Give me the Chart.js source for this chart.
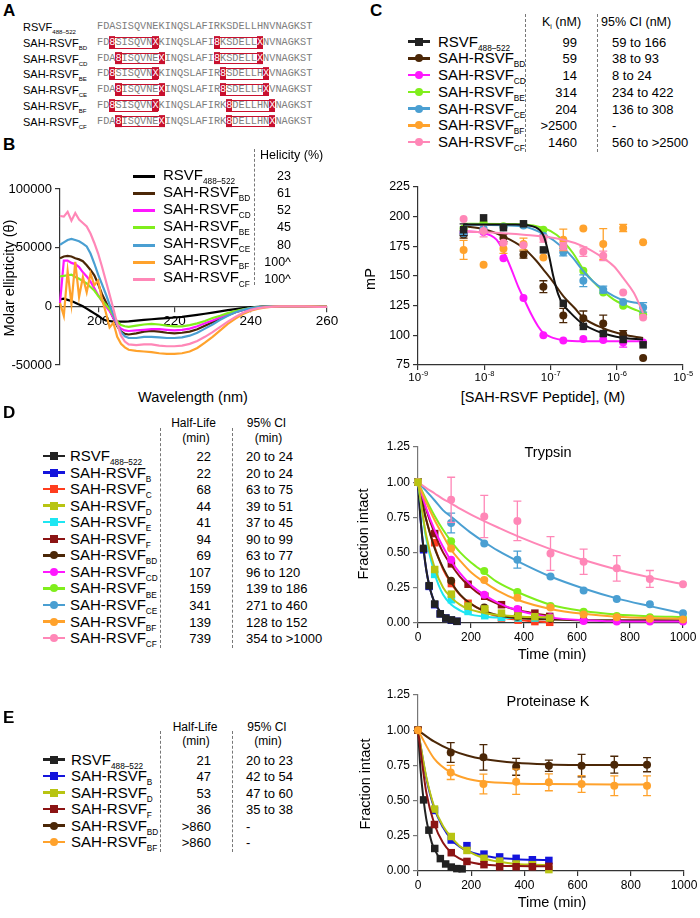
<!DOCTYPE html>
<html>
<head>
<meta charset="utf-8">
<script src="https://cdn.jsdelivr.net/npm/chart.js@4.4.1/dist/chart.umd.min.js"></script>
<style>
html,body{margin:0;padding:0;background:#fff;}
#fig{position:relative;width:700px;height:918px;overflow:hidden;background:#fff;font-family:"Liberation Sans",Arial,Helvetica,sans-serif;color:#000;}
#fig canvas{position:absolute;}
.t{position:absolute;white-space:nowrap;line-height:1;z-index:2;}
.sb{font-size:0.55em;position:relative;top:0.5em;}
.seq{font-family:"Liberation Mono","Courier New",monospace;color:#7d7d7d;line-height:1.15;}
.stp{background:#c8102e;color:#fff;}
.obox{position:absolute;border:1.3px solid #c8102e;box-sizing:border-box;z-index:1;}
.dash{position:absolute;width:0;border-left:1px dashed #777;z-index:1;}
.lg{position:absolute;z-index:2;}
</style>
</head>
<body>
<div id="fig"></div>
<script>
// ================= DATA =================
// ---- Panel A: sequences ----
const seqBase = 'FDASISQVNEKINQSLAFIRKSDELLHNVNAGKST';
const seqNames = ['RSVF','SAH-RSVF','SAH-RSVF','SAH-RSVF','SAH-RSVF','SAH-RSVF','SAH-RSVF'];
const seqSubs = ['488–522','BD','CD','BE','CE','BF','CF'];
const seqStaples = [[],[[2,9],[19,26]],[[3,10],[19,26]],[[2,9],[20,27]],[[3,10],[20,27]],[[2,9],[21,28]],[[3,10],[21,28]]];

// ---- Panel B: CD spectra ----
const cdNames = ['RSVF','SAH-RSVF','SAH-RSVF','SAH-RSVF','SAH-RSVF','SAH-RSVF','SAH-RSVF'];
const cdSubs = ['488–522','BD','CD','BE','CE','BF','CF'];
const helicity = ['23','61','52','45','80','100^','100^'];
const wlTicks = [200,220,240,260];
const cdTicks = [-50000,0,50000,100000];
const wavelength = [190,191,192,193,194,195,196,197,198,199,200,201,202,203,204,205,206,207,208,210,212,214,216,218,220,222,224,226,228,230,232,234,236,238,240,242,244,246,248,250,252,254,256,258,260];
const cdRSVF = [6000,6500,5500,4500,3000,1500,0,-2000,-4000,-6000,-8000,-10500,-12000,-12500,-13000,-13000,-13000,-13000,-12800,-12200,-11600,-11000,-10500,-10000,-9500,-9000,-8200,-7300,-6300,-5300,-4300,-3300,-2400,-1600,-900,-400,-100,0,0,0,0,0,-100,-200,-300];
const cdBD = [41000,42500,43000,42500,41000,40000,38500,35000,31000,26500,19000,10500,4000,-3000,-10000,-17000,-21500,-23500,-24000,-23000,-21500,-21000,-21500,-22500,-23000,-22500,-21500,-19500,-16500,-13500,-10500,-7500,-5000,-3000,-1600,-700,-300,-100,0,0,0,0,-100,-200,-300];
const cdCD = [3000,39000,39000,37000,36000,33500,29000,25500,21000,15500,9500,4500,0,-4000,-10000,-15500,-19000,-20500,-21000,-20500,-20000,-19500,-19500,-20000,-20500,-20000,-19000,-17000,-14500,-12000,-9500,-7000,-4700,-3000,-1700,-800,-300,-100,0,0,0,0,-100,-200,-300];
const cdBE = [25500,26000,26500,27000,25000,23500,21500,19500,16500,13500,9000,5000,1500,-2500,-8000,-13000,-16000,-17000,-17500,-16500,-15500,-15000,-15500,-16500,-17000,-17000,-16000,-14500,-12500,-10000,-8000,-5800,-4000,-2500,-1400,-600,-200,0,0,0,0,0,-100,-200,-300];
const cdCE = [52500,54500,56500,57500,56500,55500,53500,51000,45000,36500,27000,19000,10500,1500,-7000,-16000,-22000,-25500,-27000,-27000,-26000,-26000,-26500,-27000,-27000,-26500,-25000,-22500,-19000,-15500,-11500,-8000,-5000,-3000,-1500,-700,-300,-100,0,0,0,0,-100,-200,-300];
const cdBF = [3000,-8000,30000,2000,38000,8000,25000,12000,28000,18000,22000,6000,-5000,-18000,-14000,-26000,-32000,-35000,-37000,-38000,-38500,-39000,-40000,-40500,-40500,-40000,-38500,-35500,-31000,-26000,-20500,-15000,-10500,-6500,-3800,-2000,-900,-300,0,0,0,0,-100,-200,-300];
const cdCF = [77000,76500,80500,73000,79500,74000,71000,68000,62000,54000,45000,34000,22000,10000,-2000,-15000,-25000,-30000,-32500,-33000,-32500,-32500,-33500,-34000,-34000,-33500,-32000,-29500,-26000,-22000,-17500,-13000,-9000,-5500,-3000,-1500,-600,-200,0,0,0,0,-200,-400,-500];

// ---- Panel C: FP binding ----
const kiNames = cdNames;
const kiSubs = cdSubs;
const kiValues = ['99','59','14','314','204','>2500','1460'];
const kiCI = ['59 to 166','38 to 93','8 to 24','234 to 422','136 to 308','-','560 to >2500'];
const cTicks = [1e-9,1e-8,1e-7,1e-6,1e-5];
const cTickExp = ['-9','-8','-7','-6','-5'];
const mpTicks = [75,100,125,150,175,200,225];
const conc = [4.88e-9,9.77e-9,1.95e-8,3.91e-8,7.81e-8,1.56e-7,3.13e-7,6.25e-7,1.25e-6,2.5e-6];
const mpRSVF = [189,199,190.7,194,172,127,107.5,101.5,96.5,92];
const mpBD = [185,188,182,168,141,116.7,114.5,110,101,81];
const mpCD = [186.5,187,165,131.5,100,95.6,97,96,94,94];
const mpBE = [190,195,192,193,189,175,154.5,136,125,117.5];
const mpCE = [186,190,191,192.5,184,170,146,138.5,128,123.5];
const mpBF = [172,159.5,173,177,165.5,180.5,190,177,190.5,178.5];
const mpCF = [198,188,178,176,181.5,175,170.5,167,136,115];
const mpErrRSVF = [5,0,0,0,0,0,0,0,0,0];
const mpErrBD = [3,0,3,3,5,6,6,7,3,0];
const mpErrCD = [0,0,0,0,0,0,0,0,4,0];
const mpErrCE = [0,0,0,0,0,3,5,3,0,4];
const mpErrBF = [8,0,4,5,0,9,0,13,3,0];
const mpErrCF = [0,5,0,0,3,3,4,4,0,0];
const fitConcRSVF = [4.88e-9,3e-8,6e-8,8e-8,9.5e-8,1.1e-7,1.3e-7,1.55e-7,2e-7,3e-7,6e-7,1.2e-6,2.5e-6];
const fitMpRSVF = [193.5,193.5,191,183,167,150,135,126,119,110,102,98,96.5];
const fitConcBD = [4.88e-9,9.77e-9,1.95e-8,3.91e-8,6.2e-8,7.81e-8,1.08e-7,1.56e-7,2.31e-7,3.13e-7,6.25e-7,1.25e-6,2.5e-6];
const fitMpBD = [192,189.6,183.4,173.6,162.4,155.4,145.5,133,123,114.7,106,100.7,97.8];
const fitConcCD = [4.88e-9,9.77e-9,1.53e-8,1.95e-8,2.58e-8,3.24e-8,3.91e-8,5.15e-8,6.48e-8,7.81e-8,1.09e-7,1.56e-7,3.13e-7,2.5e-6];
const fitMpCD = [187.7,186.3,180.6,170.8,155.4,141.3,131.5,117.5,107.7,102,97.9,95.9,95,95];
const fitConcBE = [4.88e-9,3.91e-8,7.81e-8,1.23e-7,1.56e-7,2.18e-7,3.13e-7,4.37e-7,6.25e-7,9.04e-7,1.25e-6,1.97e-6,2.5e-6];
const fitMpBE = [194,193.5,190.4,184.8,179.2,169.4,155.4,145.5,137.1,130.1,126,121.2,118.9];
const fitConcCE = [4.88e-9,3.91e-8,7.81e-8,1.56e-7,2.18e-7,3.13e-7,4.37e-7,6.25e-7,9.04e-7,1.25e-6,1.97e-6,2.5e-6];
const fitMpCE = [193.3,191.8,185.4,173.6,165.2,154,145.5,138.6,133,129.6,127.4,126];
const fitConcCF = [4.88e-9,3.91e-8,1.56e-7,3.13e-7,6.25e-7,9.04e-7,1.25e-6,1.81e-6,2.5e-6];
const fitMpCF = [187.7,184.8,180.6,175,165.2,158.2,148.4,135.8,118.9];

// ---- Panel D: trypsin ----
const dNames = ['RSVF','SAH-RSVF','SAH-RSVF','SAH-RSVF','SAH-RSVF','SAH-RSVF','SAH-RSVF','SAH-RSVF','SAH-RSVF','SAH-RSVF','SAH-RSVF','SAH-RSVF'];
const dSubs = ['488–522','B','C','D','E','F','BD','CD','BE','CE','BF','CF'];
const dHalfLife = ['22','22','68','44','41','94','69','107','159','341','139','739'];
const dCI = ['20 to 24','20 to 24','63 to 75','39 to 51','37 to 45','90 to 99','63 to 77','96 to 120','139 to 186','271 to 460','128 to 152','354 to >1000'];
const timeTicks = [0,200,400,600,800,1000];
const fracTicks = [0,0.25,0.5,0.75,1,1.25];
const tTrypFast = [0,21,42,63,84,105,126,147];
const trypRSVF = [1.0,0.53,0.265,0.135,0.065,0.035,0.022,0.012];
const trypB = [1.0,0.52,0.26,0.13,0.065,0.035,0.02,0.012];
const tTrypSq = [0,63,126,189,252,315,378,441,497];
const trypC = [1.0,0.57,0.28,0.14,0.07,0.035,0.02,0.01,0.005];
const trypD = [1.0,0.38,0.205,0.12,0.1,0.07,0.05,0.045,0.035];
const trypE = [1.0,0.345,0.165,0.082,0.052,0.04,0.035,0.035,0.035];
const trypF = [1.0,0.635,0.42,0.275,0.19,0.13,0.09,0.07,0.047];
const tTrypCirc = [0,125,250,375,500,625,750,875,1000];
const trypBD = [1.0,0.3,0.11,0.045,0.03,0.02,0.02,0.02,0.02];
const trypCD = [1.0,0.45,0.2,0.1,0.04,0.015,0.01,0.01,0.01];
const trypBE = [1.0,0.58,0.37,0.22,0.12,0.08,0.05,0.04,0.035];
const trypCE = [1.0,0.71,0.565,0.45,0.33,0.23,0.17,0.134,0.07];
const trypBF = [1.0,0.53,0.305,0.18,0.11,0.06,0.04,0.03,0.025];
const trypCF = [1.0,0.875,0.757,0.725,0.494,0.435,0.388,0.313,0.275];
const trypErrCE = [0,0.07,0,0.06,0,0,0,0,0];
const trypErrCF = [0,0.16,0.15,0.14,0.12,0.09,0.09,0.06,0];
const fitTTrypFast = [0,10,21,31,42,52,63,84,105,126,147];
const fitTrypRSVF = [1,0.73,0.53,0.38,0.27,0.2,0.145,0.08,0.045,0.025,0.015];
const fitTrypB = [1,0.73,0.52,0.38,0.27,0.2,0.145,0.08,0.045,0.025,0.015];
const fitTTrypSq = [0,30,63,95,126,158,189,252,315,378,441,497];
const fitTrypC = [1,0.74,0.54,0.38,0.28,0.2,0.15,0.08,0.04,0.022,0.012,0.006];
const fitTrypD = [1,0.63,0.39,0.25,0.18,0.13,0.1,0.07,0.055,0.047,0.042,0.04];
const fitTrypE = [1,0.61,0.35,0.2,0.13,0.09,0.065,0.045,0.038,0.035,0.033,0.032];
const fitTrypF = [1,0.81,0.635,0.5,0.41,0.33,0.27,0.18,0.125,0.09,0.068,0.052];
const fitTTrypCirc = [0,30,63,95,125,160,200,250,300,375,500,625,750,875,1000];
const fitTrypBD = [1,0.74,0.53,0.39,0.29,0.2,0.135,0.085,0.055,0.035,0.025,0.02,0.02,0.02,0.02];
const fitTrypCD = [1,0.82,0.66,0.54,0.44,0.35,0.27,0.2,0.145,0.09,0.04,0.02,0.012,0.01,0.01];
const fitTrypBE = [1,0.88,0.76,0.66,0.58,0.5,0.43,0.36,0.29,0.22,0.13,0.085,0.06,0.048,0.042];
const fitTrypCE = [1,0.94,0.87,0.8,0.755,0.7,0.64,0.575,0.515,0.44,0.33,0.245,0.175,0.12,0.068];
const fitTrypBF = [1,0.86,0.73,0.62,0.52,0.44,0.36,0.29,0.23,0.165,0.1,0.065,0.045,0.035,0.03];
const fitTrypCF = [1,0.96,0.92,0.88,0.85,0.81,0.77,0.724,0.68,0.617,0.525,0.447,0.38,0.324,0.275];

// ---- Panel E: proteinase K ----
const eNames = ['RSVF','SAH-RSVF','SAH-RSVF','SAH-RSVF','SAH-RSVF','SAH-RSVF'];
const eSubs = ['488–522','B','D','F','BD','BF'];
const eHalfLife = ['21','47','53','36','>860','>860'];
const eCI = ['20 to 23','42 to 54','47 to 60','35 to 38','-','-'];
const tPkFast = [0,21,41,63,84,104,125,146,166];
const pkRSVF = [1.0,0.505,0.29,0.16,0.088,0.05,0.028,0.017,0.015];
const tPkSq = [0,62,125,184,248,307,369,430,492];
const pkB = [1.0,0.43,0.22,0.18,0.12,0.1,0.09,0.08,0.075];
const pkD = [1.0,0.44,0.245,0.146,0.09,0.07,0.05,0.045,0.01];
const pkF = [1.0,0.33,0.13,0.068,0.045,0.03,0.03,0.03,0.033];
const tPkCirc = [0,123,246,369,492,615,738,861];
const pkBD = [1.0,0.842,0.807,0.74,0.748,0.748,0.755,0.755];
const pkBF = [1.0,0.70,0.618,0.634,0.63,0.618,0.606,0.606];
const pkErrBD = [0,0.07,0.09,0.06,0.04,0.08,0.06,0.05];
const pkErrBF = [0,0.05,0.07,0.09,0.06,0.06,0.07,0.07];
const fitTPkFast = [0,10,21,31,41,52,63,84,104,125,146,166];
const fitPkRSVF = [1,0.71,0.505,0.37,0.28,0.2,0.15,0.085,0.05,0.03,0.02,0.015];
const fitTPkSq = [0,31,62,94,125,155,184,248,307,369,430,492];
const fitPkB = [1,0.66,0.44,0.31,0.225,0.175,0.145,0.108,0.092,0.084,0.08,0.078];
const fitPkD = [1,0.67,0.45,0.32,0.24,0.18,0.145,0.09,0.065,0.05,0.045,0.042];
const fitPkF = [1,0.56,0.33,0.2,0.13,0.09,0.068,0.046,0.038,0.035,0.034,0.034];
const fitTPkCirc = [0,60,123,185,246,369,492,615,738,861];
const fitPkBD = [1,0.92,0.86,0.82,0.795,0.768,0.757,0.753,0.752,0.752];
const fitPkBF = [1,0.8,0.7,0.655,0.635,0.622,0.618,0.616,0.615,0.615];

// ================= STYLE =================
const COL = {
  black:'#222222', blue:'#1414dc', red:'#ff3d1e', olive:'#b8c412', cyan:'#1ee6f2', dred:'#8c1414',
  brown:'#4b2707', magenta:'#ff17ff', green:'#80ee1c', steel:'#4a9fd2', orange:'#ffa22c', pink:'#ff87b7'
};
const cdColors = ['#000000',COL.brown,COL.magenta,COL.green,COL.steel,COL.orange,COL.pink];
const FONT = '"Liberation Sans", Arial, Helvetica, sans-serif';

// ================= HELPERS =================
const fig = document.getElementById('fig');
function T(x, y, html, size, o) {
  o = o || {};
  const d = document.createElement('div');
  d.className = 't' + (o.cls ? ' ' + o.cls : '');
  d.innerHTML = html;
  d.style.fontSize = size + 'px';
  d.style.left = x + 'px';
  d.style.top = y + 'px';
  if (o.bold) d.style.fontWeight = 'bold';
  const ax = o.align === 'right' ? '-100%' : (o.align === 'center' ? '-50%' : '0');
  d.style.transform = o.rot ? 'translate(-50%,-50%) rotate(-90deg)' : 'translate(' + ax + ',-50%)';
  fig.appendChild(d);
  return d;
}
function esc(s) { return s.replace(/&/g,'&amp;').replace(/</g,'&lt;').replace(/>/g,'&gt;'); }
function sub(name, s) { return esc(name) + '<span class="sb">' + esc(s) + '</span>'; }
function dash(x, y1, y2) {
  const d = document.createElement('div'); d.className = 'dash';
  d.style.left = x + 'px'; d.style.top = y1 + 'px'; d.style.height = (y2 - y1) + 'px';
  fig.appendChild(d);
}
function legendMark(x1, x2, y, color, shape, lw) {
  const l = document.createElement('div'); l.className = 'lg';
  l.style.left = x1 + 'px'; l.style.top = (y - lw / 2) + 'px';
  l.style.width = (x2 - x1) + 'px'; l.style.height = lw + 'px'; l.style.background = color;
  fig.appendChild(l);
  if (shape) {
    const m = document.createElement('div'); m.className = 'lg';
    const s = 8, cx = (x1 + x2) / 2;
    m.style.left = (cx - s / 2) + 'px'; m.style.top = (y - s / 2) + 'px';
    m.style.width = s + 'px'; m.style.height = s + 'px'; m.style.background = color;
    if (shape === 'circle') m.style.borderRadius = '50%';
    fig.appendChild(m);
  }
}
function pts(xs, ys) { return xs.map((x, i) => ({ x: x, y: ys[i] })); }
function canvasAt(l, t, w, h) {
  const c = document.createElement('canvas');
  c.width = w; c.height = h;
  c.style.left = l + 'px'; c.style.top = t + 'px';
  c.style.width = w + 'px'; c.style.height = h + 'px';
  fig.appendChild(c);
  return c;
}
function axisCfg(o) {
  const c = {
    type: o.type || 'linear', min: o.min, max: o.max, position: o.position,
    afterBuildTicks: s => { s.ticks = o.ticks.map(v => ({ value: v })); },
    ticks: { autoSkip: false, maxRotation: 0, minRotation: 0, padding: o.pad != null ? o.pad : 3,
             font: { size: o.fs, family: FONT }, color: '#000', callback: o.fmt || (v => String(v)) },
    grid: { display: true, drawOnChartArea: false, drawTicks: true, tickLength: 5, color: o.color, lineWidth: 1.2 },
    border: { display: true, color: o.color, width: 1.2 }
  };
  if (o.w || o.h) c.afterFit = s => { if (o.w) s.width = o.w; if (o.h) s.height = o.h; };
  return c;
}
function scat(xs, ys, color, shape, order, err) {
  return { data: pts(xs, ys), showLine: false, pointStyle: shape,
    pointRadius: shape === 'rect' ? 5.3 : 4, backgroundColor: color, borderColor: color, borderWidth: 0,
    order: order, clip: false, err: err };
}
function fitLine(xs, ys, color, order) {
  return { data: pts(xs, ys), showLine: true, pointRadius: 0, borderColor: color, borderWidth: 2,
    cubicInterpolationMode: 'monotone', fill: false, order: order, clip: false };
}
const errPlugin = {
  id: 'errbars',
  beforeDatasetDraw(chart, args) {
    const ds = chart.data.datasets[args.index];
    if (!ds.err) return;
    const sx = chart.scales.x, sy = chart.scales.y, ctx = chart.ctx;
    ctx.save(); ctx.strokeStyle = ds.borderColor; ctx.lineWidth = 1.3;
    ds.data.forEach((p, i) => {
      const e = ds.err[i]; if (!e) return;
      const px = sx.getPixelForValue(p.x);
      const y1 = sy.getPixelForValue(p.y - e), y2 = sy.getPixelForValue(p.y + e);
      ctx.beginPath();
      ctx.moveTo(px, y1); ctx.lineTo(px, y2);
      ctx.moveTo(px - 4, y1); ctx.lineTo(px + 4, y1);
      ctx.moveTo(px - 4, y2); ctx.lineTo(px + 4, y2);
      ctx.stroke();
    });
    ctx.restore();
  }
};
const sciPlugin = {
  id: 'sci',
  afterDraw(chart) {
    const sx = chart.scales.x, ctx = chart.ctx, y0 = chart.chartArea.bottom;
    ctx.save(); ctx.fillStyle = '#000'; ctx.textBaseline = 'alphabetic'; ctx.textAlign = 'left';
    cTicks.forEach((v, i) => {
      const px = sx.getPixelForValue(v);
      ctx.font = '11.5px ' + FONT; const w1 = ctx.measureText('10').width;
      ctx.font = '7.5px ' + FONT; const w2 = ctx.measureText(cTickExp[i]).width;
      const x0 = px - (w1 + w2) / 2;
      ctx.font = '11.5px ' + FONT; ctx.fillText('10', x0, y0 + 16);
      ctx.font = '7.5px ' + FONT; ctx.fillText(cTickExp[i], x0 + w1 + 0.5, y0 + 11);
    });
    ctx.restore();
  }
};
const baseOpts = (pad) => ({
  responsive: false, animation: false, devicePixelRatio: 1, events: [],
  layout: { padding: pad },
  plugins: { legend: { display: false }, tooltip: { enabled: false }, title: { display: false } }
});
Chart.defaults.font.family = FONT;
Chart.defaults.color = '#000';

// ================= PANEL A =================
T(3, 10, 'A', 17, { bold: true });
const seqX = 97, cw = 6.15;
seqNames.forEach((nm, r) => {
  const y = 27 + r * 15.75;
  T(23, y, sub(nm, seqSubs[r]), 11);
  const st = seqStaples[r];
  const starts = st.map(p => p[0]), ends = st.map(p => p[1]);
  let html = '';
  for (let i = 0; i < seqBase.length; i++) {
    if (starts.includes(i)) html += '<span class="stp">8</span>';
    else if (ends.includes(i)) html += '<span class="stp">X</span>';
    else html += seqBase[i];
  }
  T(seqX, y, html, 10.25, { cls: 'seq' });
  st.forEach(p => {
    const d = document.createElement('div'); d.className = 'obox';
    d.style.left = (seqX + p[0] * cw) + 'px'; d.style.width = ((p[1] - p[0] + 1) * cw) + 'px';
    d.style.top = (y - 5.8) + 'px'; d.style.height = '11.6px';
    fig.appendChild(d);
  });
});

// ================= PANEL B =================
T(3, 144, 'B', 17, { bold: true });
T(260, 155, 'Helicity (%)', 12.5);
dash(254, 149, 285);
cdNames.forEach((nm, k) => {
  const y = 174.5 + k * 17.15;
  legendMark(133, 155, y + 2, cdColors[k], null, 3);
  T(163, y, sub(nm, cdSubs[k]), 15);
  T(291, y + 1.5, esc(helicity[k]), 12.5, { align: 'right' });
});
T(9, 278, 'Molar ellipticity (θ)', 14.5, { rot: true });
T(193, 397, 'Wavelength (nm)', 14.5, { align: 'center' });
const cdSeries = [cdRSVF, cdBD, cdCD, cdBE, cdCE, cdBF, cdCF];
new Chart(canvasAt(0, 170, 345, 215), {
  type: 'scatter',
  data: { datasets: cdSeries.map((ys, k) => ({ data: pts(wavelength, ys), showLine: true, pointRadius: 0,
    borderColor: cdColors[k], borderWidth: 2.2, tension: 0, clip: false, order: 10 - k })) },
  options: Object.assign(baseOpts({ left: 0, right: 18, top: 19, bottom: 20 }), {
    scales: {
      x: axisCfg({ min: 190, max: 260, ticks: wlTicks, position: { y: 0 }, fs: 13.5, color: '#444', pad: 2 }),
      y: axisCfg({ min: -50000, max: 100000, ticks: cdTicks, position: 'left', w: 60, fs: 13, color: '#333', pad: 3 })
    }
  })
});

// ================= PANEL C =================
T(370, 10, 'C', 17, { bold: true });
T(542, 22, 'K<span class="sb">i</span> (nM)', 12.5);
T(601, 22, '95% CI (nM)', 12.5);
dash(525, 14, 152); dash(597, 14, 152);
const cShapes = ['rect','circle','circle','circle','circle','circle','circle'];
kiNames.forEach((nm, k) => {
  const y = 41.5 + k * 16.75;
  legendMark(408, 430, y, cdColors[k] === '#000000' ? COL.black : cdColors[k], cShapes[k], 2.5);
  T(438, y, sub(nm, kiSubs[k]), 15);
  T(577, y, esc(kiValues[k]), 13, { align: 'right' });
  T(612, y, esc(kiCI[k]), 13);
});
T(369.5, 279, 'mP', 14.5, { rot: true });
T(543, 397, '[SAH-RSVF Peptide], (M)', 14.5, { align: 'center' });
new Chart(canvasAt(355, 172, 345, 215), {
  type: 'scatter',
  data: { datasets: [
    fitLine(fitConcBD, fitMpBD, COL.brown, 31), scat(conc, mpBD, COL.brown, 'circle', 30, mpErrBD),
    fitLine(fitConcCD, fitMpCD, COL.magenta, 29), scat(conc, mpCD, COL.magenta, 'circle', 28, mpErrCD),
    fitLine(fitConcBE, fitMpBE, COL.green, 27), scat(conc, mpBE, COL.green, 'circle', 26),
    fitLine(fitConcCE, fitMpCE, COL.steel, 25), scat(conc, mpCE, COL.steel, 'circle', 24, mpErrCE),
    scat(conc, mpBF, COL.orange, 'circle', 22, mpErrBF),
    fitLine(fitConcCF, fitMpCF, COL.pink, 21), scat(conc, mpCF, COL.pink, 'circle', 20, mpErrCF),
    fitLine(fitConcRSVF, fitMpRSVF, '#111111', 19), scat(conc, mpRSVF, COL.black, 'rect', 18, mpErrRSVF)
  ] },
  options: Object.assign(baseOpts({ left: 0, right: 17, top: 15, bottom: 0 }), {
    scales: {
      x: axisCfg({ type: 'logarithmic', min: 1e-9, max: 1e-5, ticks: cTicks, position: 'bottom', h: 22, fs: 12, color: '#333', fmt: () => '' }),
      y: axisCfg({ min: 75, max: 225, ticks: mpTicks, position: 'left', w: 63, fs: 12.5, color: '#333' })
    }
  }),
  plugins: [errPlugin, sciPlugin]
});

// ================= PANEL D =================
T(3, 412, 'D', 17, { bold: true });
T(193.5, 423, 'Half-Life', 12, { align: 'center' });
T(196, 438, '(min)', 12, { align: 'center' });
T(266.5, 423, '95% CI', 12, { align: 'center' });
T(268.5, 438, '(min)', 12, { align: 'center' });
dash(160, 428, 648); dash(232, 428, 648);
const dColors = [COL.black, COL.blue, COL.red, COL.olive, COL.cyan, COL.dred, COL.brown, COL.magenta, COL.green, COL.steel, COL.orange, COL.pink];
const dShapes = ['rect','rect','rect','rect','rect','rect','circle','circle','circle','circle','circle','circle'];
dNames.forEach((nm, k) => {
  const y = 456 + k * 16.55;
  legendMark(43, 65, y, dColors[k], dShapes[k], 2.5);
  T(70, y, sub(nm, dSubs[k]), 15);
  T(211, y, esc(dHalfLife[k]), 13, { align: 'right' });
  T(246, y, esc(dCI[k]), 13);
});
T(548, 452, 'Trypsin', 14.5, { align: 'center' });
T(363, 534, 'Fraction intact', 14.5, { rot: true });
T(552, 654, 'Time (min)', 14.5, { align: 'center' });
const fmt2 = v => Number(v).toFixed(2);
new Chart(canvasAt(355, 435, 345, 215), {
  type: 'scatter',
  data: { datasets: [
    fitLine(fitTTrypFast, fitTrypB, COL.blue, 61), scat(tTrypFast, trypB, COL.blue, 'rect', 60),
    fitLine(fitTTrypFast, fitTrypRSVF, COL.black, 59), scat(tTrypFast, trypRSVF, COL.black, 'rect', 58),
    fitLine(fitTTrypSq, fitTrypC, COL.red, 57), scat(tTrypSq, trypC, COL.red, 'rect', 56),
    fitLine(fitTTrypSq, fitTrypE, COL.cyan, 53), scat(tTrypSq, trypE, COL.cyan, 'rect', 52),
    fitLine(fitTTrypSq, fitTrypF, COL.dred, 51), scat(tTrypSq, trypF, COL.dred, 'rect', 50),
    fitLine(fitTTrypCirc, fitTrypBD, COL.brown, 49), scat(tTrypCirc, trypBD, COL.brown, 'circle', 48),
    fitLine(fitTTrypCirc, fitTrypCD, COL.magenta, 47), scat(tTrypCirc, trypCD, COL.magenta, 'circle', 46),
    fitLine(fitTTrypCirc, fitTrypBE, COL.green, 45), scat(tTrypCirc, trypBE, COL.green, 'circle', 44),
    fitLine(fitTTrypCirc, fitTrypCE, COL.steel, 43), scat(tTrypCirc, trypCE, COL.steel, 'circle', 42, trypErrCE),
    fitLine(fitTTrypCirc, fitTrypBF, COL.orange, 41), scat(tTrypCirc, trypBF, COL.orange, 'circle', 40),
    fitLine(fitTTrypCirc, fitTrypCF, COL.pink, 39), scat(tTrypCirc, trypCF, COL.pink, 'circle', 38, trypErrCF),
    fitLine(fitTTrypSq, fitTrypD, COL.olive, 37), scat(tTrypSq, trypD, COL.olive, 'rect', 36)
  ] },
  options: Object.assign(baseOpts({ left: 0, right: 17, top: 12, bottom: 0 }), {
    scales: {
      x: axisCfg({ min: 0, max: 1000, ticks: timeTicks, position: 'bottom', h: 27, fs: 12, color: '#333', pad: 2 }),
      y: axisCfg({ min: 0, max: 1.25, ticks: fracTicks, position: 'left', w: 63, fs: 12, color: '#777', fmt: fmt2 })
    }
  }),
  plugins: [errPlugin]
});

// ================= PANEL E =================
T(3, 717, 'E', 17, { bold: true });
T(195, 726.7, 'Half-Life', 12, { align: 'center' });
T(196, 741, '(min)', 12, { align: 'center' });
T(267, 726.7, '95% CI', 12, { align: 'center' });
T(268, 741, '(min)', 12, { align: 'center' });
dash(160, 731, 852); dash(232, 731, 852);
const eColors = [COL.black, COL.blue, COL.olive, COL.dred, COL.brown, COL.orange];
const eShapes = ['rect','rect','rect','rect','circle','circle'];
eNames.forEach((nm, k) => {
  const y = 759.5 + k * 16.5;
  legendMark(43, 65, y, eColors[k], eShapes[k], 2.5);
  T(71, y, sub(nm, eSubs[k]), 15);
  T(211, y, esc(eHalfLife[k]), 13, { align: 'right' });
  T(246, y, esc(eCI[k]), 13);
});
T(548, 701, 'Proteinase K', 14.5, { align: 'center' });
T(365, 784, 'Fraction intact', 14.5, { rot: true });
T(552, 902, 'Time (min)', 14.5, { align: 'center' });
new Chart(canvasAt(355, 683, 345, 215), {
  type: 'scatter',
  data: { datasets: [
    fitLine(fitTPkFast, fitPkRSVF, COL.black, 61), scat(tPkFast, pkRSVF, COL.black, 'rect', 60),
    fitLine(fitTPkSq, fitPkD, COL.olive, 57), scat(tPkSq, pkD, COL.olive, 'rect', 56),
    fitLine(fitTPkSq, fitPkB, COL.blue, 59), scat(tPkSq, pkB, COL.blue, 'rect', 58),
    fitLine(fitTPkSq, fitPkF, COL.dred, 55), scat(tPkSq, pkF, COL.dred, 'rect', 54),
    fitLine(fitTPkCirc, fitPkBF, COL.orange, 51), scat(tPkCirc, pkBF, COL.orange, 'circle', 50, pkErrBF),
    fitLine(fitTPkCirc, fitPkBD, COL.brown, 53), scat(tPkCirc, pkBD, COL.brown, 'circle', 52, pkErrBD)
  ] },
  options: Object.assign(baseOpts({ left: 0, right: 16, top: 12, bottom: 0 }), {
    scales: {
      x: axisCfg({ min: 0, max: 1000, ticks: timeTicks, position: 'bottom', h: 27, fs: 12, color: '#333', pad: 2 }),
      y: axisCfg({ min: 0, max: 1.25, ticks: fracTicks, position: 'left', w: 63, fs: 12, color: '#777', fmt: fmt2 })
    }
  }),
  plugins: [errPlugin]
});
</script>
</body>
</html>
